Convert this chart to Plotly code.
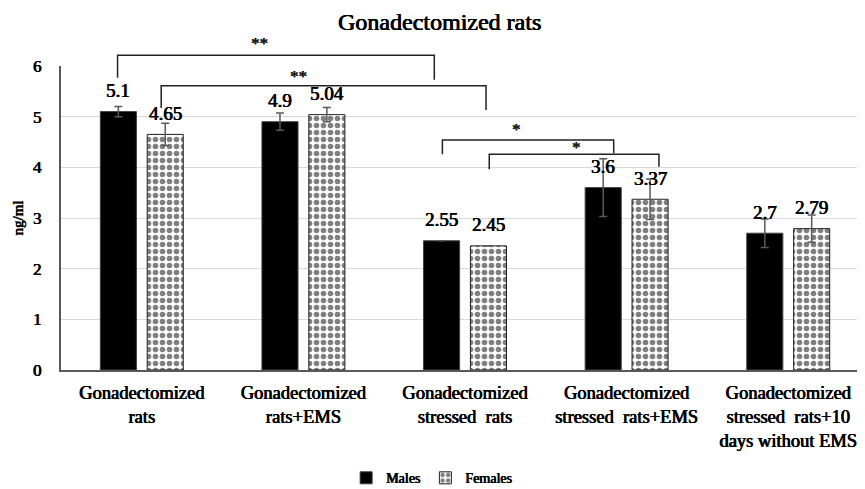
import plotly.graph_objects as go

categories = ["Gonadectomized<br>rats", "Gonadectomized<br>rats+EMS", "Gonadectomized<br>stressed  rats",
              "Gonadectomized<br>stressed  rats+EMS", "Gonadectomized<br>stressed  rats+10<br>days without EMS"]
males = [5.1, 4.9, 2.55, 3.6, 2.7]
females = [4.65, 5.04, 2.45, 3.37, 2.79]
males_err = [0.1, 0.17, 0.0, 0.57, 0.28]
females_err = [0.22, 0.14, 0.0, 0.4, 0.27]
male_labels = ["5.1", "4.9", "2.55", "3.6", "2.7"]
female_labels = ["4.65", "5.04", "2.45", "3.37", "2.79"]

# significance brackets (x in category units, y in data units)
br_x_left = [-0.15, 0.12, 1.86, 2.15]
br_x_right = [1.81, 2.13, 2.92, 3.20]
br_top = [6.21, 5.61, 4.54, 4.26]
br_left_bottom = [5.77, 5.17, 4.26, 3.96]
br_right_bottom = [5.73, 5.13, 4.28, 4.01]
br_text = ["**", "**", "*", "*"]
br_text_x = [0.73, 0.97, 2.32, 2.69]
br_text_y = [6.44, 5.79, 4.74, 4.39]

YMAX = 6
FONT = "Liberation Serif"
BOLD = "0.5px 0 0 #000, -0.3px 0 0 #000"   # pseudo-bold stroke
OFF = 0.145


def f(size, color="black"):
    return dict(family=FONT, size=size, color=color, shadow=BOLD)


fig = go.Figure()
fig.add_trace(go.Bar(
    name="Males", x=categories, y=males,
    marker=dict(color="black", line=dict(color="#404040", width=1)),
    error_y=dict(type="data", array=males_err, color="#595959", thickness=1.5, width=4),
))
fig.add_trace(go.Bar(
    name="Females", x=categories, y=females,
    marker=dict(color="white", line=dict(color="#222222", width=1),
                pattern=dict(shape=".", fgcolor="black", bgcolor="white", size=7, solidity=0.5)),
    error_y=dict(type="data", array=females_err, color="#595959", thickness=1.5, width=4),
))

annotations = []
for i, (v, t) in enumerate(zip(males, male_labels)):
    annotations.append(dict(x=i - OFF, y=v, xref="x", yref="y", text=t, showarrow=False,
                            xanchor="center", yanchor="middle", yshift=21, font=f(19)))
for i, (v, t) in enumerate(zip(females, female_labels)):
    annotations.append(dict(x=i + OFF, y=v, xref="x", yref="y", text=t, showarrow=False,
                            xanchor="center", yanchor="middle", yshift=21, font=f(19)))
for tx, ty, t in zip(br_text_x, br_text_y, br_text):
    annotations.append(dict(x=tx, y=ty / YMAX, xref="x", yref="paper", text=t, showarrow=False,
                            xanchor="center", yanchor="middle", font=f(17, "#222")))
annotations.append(dict(x=0.471, y=1.145, xref="paper", yref="paper", text="Gonadectomized rats",
                        xanchor="center", yanchor="middle", showarrow=False, font=f(24)))

shapes = []
for xl, xr, yt, yl, yr in zip(br_x_left, br_x_right, br_top, br_left_bottom, br_right_bottom):
    shapes.append(dict(type="path", xref="x", yref="paper",
                       path=f"M {xl},{yl / YMAX} L {xl},{yt / YMAX} L {xr},{yt / YMAX} L {xr},{yr / YMAX}",
                       line=dict(color="#222222", width=1.5)))

fig.update_layout(
    width=857, height=481,
    margin=dict(l=53, r=0, t=58, b=119, autoexpand=False),
    paper_bgcolor="white", plot_bgcolor="white",
    barmode="group", bargap=0.42, bargroupgap=0.23,
    showlegend=True,
    legend=dict(orientation="h", x=0.461, xanchor="center", y=-0.356, yanchor="middle",
                font=f(14)),
    annotations=annotations, shapes=shapes,
    font=dict(family=FONT, color="black"),
)
fig.update_xaxes(range=[-0.5, 4.475], showline=True, linecolor="#595959", linewidth=1.5,
                 tickfont=f(18.5), ticks="", ticklabelstandoff=5, showgrid=False, automargin=False)
fig.update_yaxes(range=[0, YMAX], dtick=1, showline=True, linecolor="#595959", linewidth=2,
                 gridcolor="#d9d9d9", gridwidth=1, zeroline=False, automargin=False,
                 tickfont=f(17), ticklabelstandoff=14,
                 title=dict(text="ng/ml", standoff=6, font=f(15)))

fig.write_html("out.html")
